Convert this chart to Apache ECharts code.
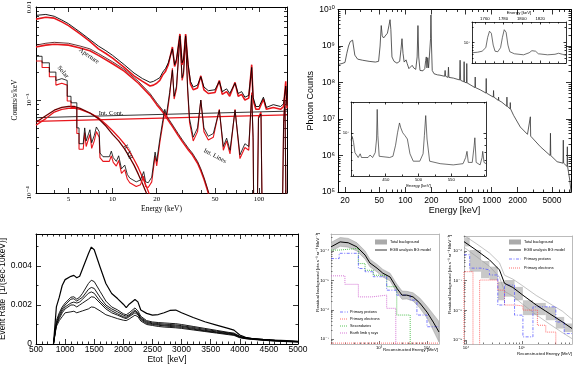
<!DOCTYPE html>
<html>
<head>
<meta charset="utf-8">
<script src="https://cdn.jsdelivr.net/npm/echarts@6/dist/echarts.min.js"></script>
<style>
html, body { margin: 0; padding: 0; background: #fff; }
#c { width: 586px; height: 375px; }
</style>
</head>
<body>
<div id="c"></div>
<script>
// ---------- panel 1 : counts/s/keV vs energy (keV); y values are log10 exponents
const totE = [3, 3.5, 4, 4.5, 5, 6, 7, 8, 9, 10, 12, 14, 16, 18, 19, 20, 21, 22, 23, 24, 25.6, 26.5, 27.3, 28.8, 29.8, 30.5, 31.5, 32.8, 34, 35.5, 38, 40, 42, 45, 50, 53.5, 56, 60, 63, 68.5, 72, 76, 80, 85, 89, 91, 95, 100, 107, 112, 125, 140, 147, 152, 155];
const totBlk = [-2.09, -2.08, -2.10, -2.14, -2.18, -2.27, -2.35, -2.42, -2.47, -2.52, -2.62, -2.71, -2.77, -2.81, -2.80, -2.78, -2.76, -2.70, -2.66, -2.60, -2.45, -2.62, -2.56, -2.31, -2.60, -2.56, -2.31, -2.62, -2.80, -2.86, -2.84, -2.75, -2.86, -2.90, -2.89, -2.80, -2.91, -2.88, -2.93, -2.82, -2.93, -2.91, -2.97, -2.95, -2.65, -2.97, -3.07, -3.07, -2.97, -3.08, -3.05, -3.07, -3.04, -2.85, -3.06];
const totRed = [-2.13, -2.11, -2.12, -2.16, -2.20, -2.29, -2.37, -2.45, -2.50, -2.55, -2.65, -2.74, -2.80, -2.85, -2.84, -2.82, -2.79, -2.73, -2.69, -2.62, -2.43, -2.64, -2.58, -2.29, -2.62, -2.58, -2.29, -2.64, -2.83, -2.89, -2.87, -2.74, -2.89, -2.93, -2.92, -2.79, -2.94, -2.91, -2.96, -2.81, -2.96, -2.94, -3.00, -2.98, -2.62, -3.00, -3.10, -3.10, -2.99, -3.10, -3.08, -3.10, -3.07, -2.80, -3.09];

const apE = [3, 3.5, 4, 5, 6, 7, 8, 10, 12, 15, 18, 20, 22, 25, 28, 30, 33, 35, 38, 40, 42, 44, 46];
const apBlk = [-2.41, -2.39, -2.38, -2.39, -2.42, -2.45, -2.50, -2.59, -2.67, -2.80, -2.93, -3.03, -3.11, -3.24, -3.36, -3.43, -3.52, -3.57, -3.66, -3.74, -3.83, -3.93, -4.03];
const apRed = [-2.43, -2.41, -2.40, -2.41, -2.44, -2.47, -2.52, -2.61, -2.69, -2.82, -2.95, -3.05, -3.13, -3.26, -3.38, -3.45, -3.54, -3.59, -3.68, -3.76, -3.85, -3.95, -4.05];

const icE = [3, 3.5, 4, 4.5, 5, 5.5, 6, 7, 8, 9, 10, 11, 12, 13, 14, 15, 16, 17, 18];
const icDark = [-3.24, -3.17, -3.11, -3.08, -3.07, -3.07, -3.09, -3.14, -3.20, -3.28, -3.37, -3.44, -3.52, -3.61, -3.70, -3.80, -3.90, -4.00, -4.10];
const icRed = [-3.27, -3.20, -3.13, -3.10, -3.09, -3.09, -3.10, -3.14, -3.19, -3.26, -3.33, -3.40, -3.47, -3.55, -3.64, -3.73, -3.83, -3.93, -4.03];

const contE = [3, 155];
const contBlk = [-3.19, -3.12];
const contRed = [-3.23, -3.16];

const lnE = [3.0, 3.3, 3.3, 3.7, 3.7, 4.1, 4.1, 4.5, 4.9, 4.9, 5.2, 5.2, 5.7, 5.7, 5.9, 5.9, 6.3, 6.45, 6.6, 6.8, 7.0, 7.2, 7.5, 7.75, 8.1, 8.2, 8.6, 9.5, 9.8, 10.1, 10.6, 11.0, 11.5, 12.1, 12.6, 13.1, 14.5, 15.5, 16.3, 16.8, 17.5, 18.5, 19.5, 20.0, 21, 22, 22.7, 23.3, 24.5, 25.6, 26.3, 27.3, 28.8, 29.8, 30.5, 31.5, 32.5, 33.5, 35.5, 38, 40, 42, 45, 48.7, 53.5, 57, 60, 63.3, 68.5, 74, 80, 85, 89, 91, 92, 97, 99, 103, 105, 144, 147, 150, 153];
const lnBlk = [-2.53, -2.53, -2.60, -2.60, -2.70, -2.70, -2.79, -2.77, -2.79, -2.96, -2.96, -3.03, -3.03, -3.30, -3.30, -3.47, -3.47, -3.30, -3.44, -3.46, -3.32, -3.46, -3.38, -3.29, -3.34, -3.57, -3.61, -3.61, -3.55, -3.62, -3.66, -3.60, -3.74, -3.70, -3.80, -3.84, -3.88, -3.86, -3.77, -3.88, -3.89, -3.83, -3.56, -3.66, -3.42, -3.22, -3.10, -3.16, -2.92, -2.68, -2.96, -2.85, -2.32, -2.76, -2.70, -2.32, -2.86, -3.20, -3.40, -3.30, -3.00, -3.30, -3.39, -3.36, -3.11, -3.50, -3.41, -3.54, -3.11, -3.59, -3.47, -3.50, -2.95, -3.40, -4.30, -4.30, -3.20, -3.15, -4.30, -4.30, -3.25, -3.00, -4.30];
const lnRed = [-2.58, -2.58, -2.65, -2.65, -2.75, -2.75, -2.84, -2.82, -2.84, -3.01, -3.01, -3.08, -3.08, -3.36, -3.36, -3.53, -3.53, -3.35, -3.50, -3.52, -3.37, -3.52, -3.44, -3.34, -3.40, -3.62, -3.66, -3.66, -3.60, -3.67, -3.71, -3.65, -3.79, -3.75, -3.85, -3.89, -3.93, -3.91, -3.82, -3.93, -3.94, -3.88, -3.60, -3.71, -3.46, -3.26, -3.13, -3.20, -2.95, -2.66, -2.99, -2.88, -2.30, -2.79, -2.73, -2.30, -2.89, -3.24, -3.44, -3.34, -3.00, -3.34, -3.43, -3.40, -3.10, -3.54, -3.44, -3.58, -3.10, -3.63, -3.51, -3.54, -2.92, -3.44, -4.30, -4.30, -3.18, -3.13, -4.30, -4.30, -3.22, -2.97, -4.30];

// ---------- panel 2 : photon counts (log10) vs energy (keV)
const specE = [17, 18.5, 20, 21, 22, 23, 24.5, 25.3, 26, 28, 32, 38, 45, 49, 51, 52.6, 54, 56, 59, 62, 64.5, 66.5, 68, 70, 74, 80, 86, 89, 91.5, 94, 97, 100, 102, 105, 110, 116, 120, 125, 132, 137, 140, 143, 148, 160, 168, 172, 175, 178, 182, 186, 192, 196, 198, 201, 205, 215, 235, 252, 285, 289, 293, 312, 316, 320, 361, 425, 431, 437, 476, 480, 484, 511, 515, 519, 640, 645, 650, 737, 860, 865, 870, 1045, 1052, 1060, 1195, 1202, 1210, 1313, 1495, 1503, 1511, 1635, 1644, 1653, 1795, 2147, 2600, 2808, 2830, 3670, 4760, 4800, 4840, 5730, 6700, 6760, 6820, 7480, 7530, 7580, 8040, 8400];
const specExp = [8.50, 8.52, 8.55, 8.80, 9.00, 9.12, 9.16, 9.15, 8.75, 8.64, 8.61, 8.58, 8.56, 8.58, 9.00, 9.56, 9.28, 9.22, 9.26, 9.35, 9.55, 9.72, 9.45, 8.70, 8.58, 8.53, 8.58, 8.90, 9.20, 8.80, 8.56, 8.55, 8.62, 8.52, 8.38, 8.42, 8.47, 8.40, 8.36, 8.70, 9.56, 8.70, 8.33, 8.32, 8.38, 8.60, 8.70, 8.40, 8.68, 8.40, 8.45, 9.20, 9.85, 9.00, 8.33, 8.24, 8.21, 8.20, 8.17, 8.33, 8.17, 8.14, 8.42, 8.14, 8.12, 8.07, 8.61, 8.06, 8.02, 8.57, 8.01, 7.99, 8.52, 7.99, 7.86, 8.15, 7.86, 7.80, 7.71, 8.11, 7.71, 7.60, 7.78, 7.60, 7.51, 7.60, 7.51, 7.46, 7.35, 7.60, 7.35, 7.28, 7.45, 7.28, 7.10, 6.78, 6.58, 7.06, 6.53, 6.24, 6.00, 6.61, 6.00, 5.83, 5.79, 6.42, 5.79, 5.70, 6.24, 5.70, 5.32, 4.90];

const hiE = [1746, 1752, 1757, 1761, 1763, 1765, 1767, 1769, 1771, 1774, 1777, 1779, 1781, 1783, 1785, 1787, 1792, 1802, 1808, 1811, 1813, 1815, 1818, 1828, 1836, 1840, 1844, 1848];
const hiExp = [6.80, 6.81, 6.83, 6.90, 7.10, 7.22, 7.18, 6.95, 6.83, 6.82, 6.90, 7.10, 7.25, 7.20, 6.95, 6.82, 6.78, 6.76, 6.80, 6.84, 6.86, 6.83, 6.78, 6.76, 6.77, 6.79, 6.77, 6.75];

const loE = [397, 399, 401, 403, 408, 411, 413, 423, 426, 430, 434, 436, 437, 438, 440, 443, 456, 461, 465, 468, 471, 473, 476, 479, 483, 487, 492, 502, 507, 509, 511, 513, 517, 533, 553, 568, 572, 574, 576, 582, 585, 586, 588, 594, 597, 598, 600, 603];
const loExp = [6.94, 6.97, 6.92, 6.84, 6.80, 6.83, 6.80, 6.80, 6.82, 6.80, 6.84, 6.95, 7.19, 6.98, 6.81, 6.80, 6.80, 6.81, 6.90, 7.00, 7.08, 7.04, 7.00, 6.98, 6.95, 6.83, 6.77, 6.77, 6.83, 6.98, 7.14, 6.95, 6.77, 6.75, 6.74, 6.75, 6.80, 6.85, 6.76, 6.76, 6.90, 6.96, 6.76, 6.74, 6.80, 6.85, 6.76, 6.75];

// ---------- panel 3 : event rate vs Etot (keV)
const etot = [800, 850, 900, 950, 1000, 1100, 1150, 1200, 1250, 1300, 1400, 1450, 1500, 1600, 1700, 1800, 1900, 2000, 2050, 2100, 2200, 2250, 2300, 2400, 2500, 2600, 2700, 2800, 2900, 3000, 3200, 3400, 3600, 3800, 3900, 4000, 4100, 4200, 4400, 4600, 4800, 5000];
const rate1 = [0, 0.0019, 0.0024, 0.0030, 0.0033, 0.00347, 0.00352, 0.0034, 0.00347, 0.00386, 0.00463, 0.00497, 0.00483, 0.00395, 0.0031, 0.00259, 0.00233, 0.00204, 0.00187, 0.00204, 0.00228, 0.00216, 0.00174, 0.00157, 0.00148, 0.00151, 0.0016, 0.00172, 0.00174, 0.0016, 0.00136, 0.00114, 0.00097, 0.0008, 0.00071, 0.00046, 0.00034, 0.00029, 0.00024, 0.0002, 0.00017, 0.00014];
const rate2 = [0, 0.0012, 0.0016, 0.0019, 0.0021, 0.0024, 0.00242, 0.0023, 0.0024, 0.0026, 0.0031, 0.00327, 0.0032, 0.0027, 0.0022, 0.0019, 0.00175, 0.00155, 0.0015, 0.0016, 0.00185, 0.0017, 0.00142, 0.0012, 0.00113, 0.0011, 0.00108, 0.00106, 0.00104, 0.001, 0.0009, 0.0008, 0.0007, 0.0006, 0.00056, 0.0004, 0.00032, 0.00028, 0.00023, 0.00019, 0.00016, 0.00013];
const rate3 = [0, 0.0011, 0.0015, 0.0018, 0.002, 0.0023, 0.00232, 0.0022, 0.0023, 0.0024, 0.0028, 0.0029, 0.00285, 0.0024, 0.002, 0.0018, 0.00165, 0.00148, 0.00143, 0.0015, 0.00175, 0.0016, 0.00135, 0.00115, 0.00108, 0.00105, 0.00102, 0.001, 0.00098, 0.00094, 0.00085, 0.00075, 0.00066, 0.00057, 0.00052, 0.00038, 0.0003, 0.00027, 0.00022, 0.00018, 0.00015, 0.00012];
const rate4 = [0, 0.001, 0.0014, 0.0017, 0.0019, 0.0021, 0.00215, 0.0021, 0.00215, 0.0023, 0.0026, 0.00267, 0.0026, 0.0022, 0.0019, 0.0017, 0.00155, 0.0014, 0.00136, 0.00145, 0.00168, 0.00155, 0.0013, 0.0011, 0.00104, 0.001, 0.00097, 0.00095, 0.00093, 0.0009, 0.0008, 0.0007, 0.00062, 0.00054, 0.0005, 0.00036, 0.00029, 0.00026, 0.00021, 0.00017, 0.00014, 0.00012];
const rate5 = [0, 0.001, 0.0013, 0.0016, 0.0018, 0.002, 0.002, 0.0019, 0.002, 0.0021, 0.0023, 0.00242, 0.0024, 0.0021, 0.0018, 0.0016, 0.00148, 0.00135, 0.0013, 0.0014, 0.0016, 0.0015, 0.00125, 0.00105, 0.001, 0.00096, 0.00093, 0.0009, 0.00088, 0.00085, 0.00076, 0.00067, 0.00059, 0.00051, 0.00047, 0.00034, 0.00028, 0.00025, 0.0002, 0.00016, 0.00013, 0.00011];
const rate6 = [0, 0.0009, 0.0012, 0.0014, 0.0016, 0.00165, 0.00168, 0.0016, 0.00165, 0.0017, 0.0018, 0.0019, 0.00188, 0.0017, 0.0015, 0.0014, 0.0013, 0.00122, 0.0012, 0.00128, 0.00148, 0.0014, 0.00118, 0.001, 0.00095, 0.0009, 0.00087, 0.00085, 0.00083, 0.0008, 0.00072, 0.00064, 0.00056, 0.00048, 0.00044, 0.00032, 0.00027, 0.00024, 0.00019, 0.00015, 0.00012, 0.0001];

// ---------- panel 4 : residual background (log10) vs reconstructed energy (MeV)
const p4E = [100, 155, 229, 347, 513, 646, 912, 1202, 1698, 2344, 3020, 3802, 5129, 7079, 10000, 13490, 17780];
const p4Model = [-3.85, -3.68, -3.71, -3.85, -4.13, -4.40, -4.58, -4.75, -4.88, -5.26, -5.50, -5.50, -5.56, -5.77, -6.08, -6.42, -6.76];
const p4Upper = [-3.70, -3.53, -3.56, -3.71, -3.99, -4.27, -4.45, -4.62, -4.75, -5.12, -5.36, -5.37, -5.42, -5.60, -5.88, -6.15, -6.40];
const p4Lower = [-4.00, -3.83, -3.86, -3.99, -4.27, -4.53, -4.71, -4.88, -5.01, -5.40, -5.64, -5.63, -5.70, -5.94, -6.28, -6.70, -7.10];
const p4Edges = [100, 148, 372, 513, 759, 1445, 2344, 4467, 6166, 10000, 17780];
const p4Protons = [-4.25, -4.07, -4.59, -4.70, -4.87, -5.33, -5.50, -5.67, -6.18, -6.58];
const p4Second = [-3.96, -3.90, -4.42, -4.65, -4.82, -5.21, -6.18];
const p4LimbEdges = [100, 195, 372, 513, 708, 1445, 2239];
const p4Limb = [-4.84, -5.13, -5.56, -5.56, -5.50, -5.95];
const p4ElecEdges = [100, 17780];
const p4Elec = [-7.14];

// ---------- panel 5
const p5E = [9204, 15136, 26303, 39811, 48978, 69183, 104713, 181970, 309030, 537032, 794328];
const p5Model = [-5.69, -5.97, -6.30, -6.64, -7.09, -7.23, -7.49, -7.82, -8.10, -8.39, -8.61];
const p5Upper = [-5.48, -5.75, -6.07, -6.40, -6.82, -6.95, -7.18, -7.50, -7.76, -8.03, -8.30];
const p5Lower = [-5.88, -6.18, -6.52, -6.88, -7.36, -7.52, -7.80, -8.15, -8.45, -8.75, -8.95];
const p5BoxEdges = [9204, 11641, 18621, 26303, 37154, 48978, 74131, 104713, 158489, 269153, 407380, 575440, 794328];
const p5BoxTop = [-5.55, -5.97, -6.34, -6.53, -7.04, -6.98, -7.21, -7.66, -7.75, -7.88, -8.22, -8.44];
const p5BoxBot = [-5.85, -6.70, -6.92, -6.98, -7.66, -7.54, -7.66, -8.16, -8.16, -8.33, -8.61, -8.73];
const p5Protons = [-6.13, -6.58, -6.64, -6.81, -7.82, -7.15, -8.16, -8.89, -7.88, -7.88, -8.39, -8.78];
const p5ElecEdges = [9204, 13335, 17539, 37154, 48978, 74131, 104713, 190546, 269153, 407380];
const p5Elec = [-6.70, -9.50, -6.98, -7.32, -7.82, -7.85, -7.99, -8.50, -8.73];

// ---------- helpers
const lg = Math.log10;
const SERIF = '"Liberation Serif", "DejaVu Serif", serif';
const SANS = '"Liberation Sans", "DejaVu Sans", sans-serif';
const SUP = { '-': '\u207B', '0': '\u2070', '1': '\u00B9', '2': '\u00B2', '3': '\u00B3', '4': '\u2074', '5': '\u2075', '6': '\u2076', '7': '\u2077', '8': '\u2078', '9': '\u2079' };
const pow10 = v => '10' + String(Math.round(v)).split('').map(c => SUP[c]).join('');
const plain = v => String(Math.round(Math.pow(10, v)));

function majorLog(a, b) { const o = []; for (let d = Math.ceil(a - 1e-9); d <= b + 1e-9; d++) o.push(d); return o; }
function minorLog(a, b) {
  const o = [];
  for (let d = Math.floor(a) - 1; d <= Math.ceil(b); d++)
    for (let k = 2; k <= 9; k++) { const v = d + lg(k); if (v > a && v < b) o.push(v); }
  return o;
}
const xyL = (xs, ys) => xs.map((x, i) => [lg(x), ys[i]]);
const xyN = (xs, ys) => xs.map((x, i) => [x, ys[i]]);
function hist(edges, vals, drop) {
  const p = vals.map((v, i) => [lg(edges[i]), v]);
  p.push([lg(edges[vals.length]), vals[vals.length - 1]]);
  if (drop !== undefined) p.push([lg(edges[vals.length]), drop]);
  return p;
}

const xAxis = [], yAxis = [];
function axis(list, g, r, pos, o) {
  const c = o.color || '#000';
  list.push({
    type: 'value', gridIndex: g, min: r[0], max: r[1], position: pos,
    axisLine: { show: o.line !== false, onZero: false, lineStyle: { color: c, width: o.lw || 1 } },
    axisTick: o.ticks ? { show: true, inside: true, length: o.len || 4, customValues: o.ticks, lineStyle: { color: o.tc || c, width: 0.8 } } : { show: false },
    axisLabel: o.labels ? { show: true, customValues: o.labels, formatter: o.fmt, fontFamily: o.font, fontSize: o.size, color: '#000', margin: o.margin || 3, rotate: o.rotate || 0, hideOverlap: false } : { show: false },
    splitLine: { show: false }, minorTick: { show: false },
    name: o.name || '', nameLocation: 'middle', nameGap: o.gap || 0, nameRotate: o.nameRotate,
    nameTextStyle: { fontFamily: o.font, fontSize: o.nameSize || o.size, color: '#000' }
  });
  return list.length - 1;
}
function frame(g, xr, yr, s) {
  const base = { color: s.color, tc: s.tc, font: s.font, size: s.size, lw: s.lw };
  const xb = s.xTop ? 'top' : 'bottom', xt = s.xTop ? 'bottom' : 'top';
  const xi = axis(xAxis, g, xr, xb, Object.assign({}, base, s.x, { ticks: s.x.major, len: s.len }));
  if (s.x.minor) axis(xAxis, g, xr, xb, Object.assign({}, base, { line: false, ticks: s.x.minor, len: s.mlen }));
  axis(xAxis, g, xr, xt, Object.assign({}, base, s.mirror ? { ticks: s.x.major, len: s.len } : {}));
  if (s.mirror && s.x.minor) axis(xAxis, g, xr, xt, Object.assign({}, base, { line: false, ticks: s.x.minor, len: s.mlen }));
  const yi = axis(yAxis, g, yr, 'left', Object.assign({}, base, s.y, { ticks: s.y.major, len: s.len }));
  if (s.y.minor) axis(yAxis, g, yr, 'left', Object.assign({}, base, { line: false, ticks: s.y.minor, len: s.mlen }));
  axis(yAxis, g, yr, 'right', Object.assign({}, base, s.mirror ? { ticks: s.y.major, len: s.len } : {}));
  if (s.mirror && s.y.minor) axis(yAxis, g, yr, 'right', Object.assign({}, base, { line: false, ticks: s.y.minor, len: s.mlen }));
  return { x: xi, y: yi };
}

const grid = [
  { left: 36, top: 7, width: 251, height: 186 },
  { left: 338, top: 9.5, width: 233, height: 182.5 },
  { left: 472, top: 22, width: 94, height: 41 },
  { left: 351, top: 102, width: 135, height: 74 },
  { left: 36, top: 234, width: 262, height: 110 },
  { left: 331, top: 234, width: 108, height: 110 },
  { left: 464, top: 236, width: 108, height: 108 }
].map(g => Object.assign({ containLabel: false, outerBoundsMode: 'none' }, g));

// panel 1 axes
const r1x = [lg(3), lg(155)], r1y = [-4, -2];
const A1 = frame(0, r1x, r1y, {
  font: SERIF, size: 7, len: 5, mlen: 3, mirror: true,
  x: { major: [lg(5), 1, lg(20), lg(50), 2], minor: [3, 4, 6, 7, 8, 9, 30, 40, 60, 70, 80, 90, 150].map(lg),
       labels: [lg(5), 1, lg(20), lg(50), 2], fmt: plain, margin: 3, name: 'Energy (keV)', gap: 12, nameSize: 7.5 },
  y: { major: majorLog(-4, -2), minor: minorLog(-4, -2), labels: [-4, -3, -2],
       fmt: v => Math.round(v) === -2 ? '0.01' : pow10(v), rotate: 90, margin: 3,
       name: 'Counts/s/keV', gap: 17, nameRotate: 90, nameSize: 7.5 }
});
// panel 2 axes
const r2x = [lg(16.6), lg(8300)], r2y = [5, 10];
const lab2 = [20, 50, 100, 200, 500, 1000, 2000, 5000].map(lg);
const A2 = frame(1, r2x, r2y, {
  font: SANS, size: 8.5, len: 5, mlen: 2.5, mirror: true,
  x: { major: lab2, minor: [30, 40, 60, 70, 80, 90, 300, 400, 600, 700, 800, 900, 3000, 4000, 6000, 7000, 8000].map(lg),
       labels: lab2, fmt: plain, margin: 4, name: 'Energy [keV]', gap: 13, nameSize: 9 },
  y: { major: majorLog(5, 10), minor: minorLog(5, 10), labels: majorLog(5, 10), fmt: pow10, margin: 3,
       name: 'Photon Counts', gap: 22, nameRotate: 90, nameSize: 9 }
});
const A2a = frame(2, [1746, 1848], [6.6, 7.4], {
  font: SANS, size: 4.3, len: 2.5, mlen: 1.5, lw: 0.8, mirror: true, xTop: true,
  x: { major: [1760, 1780, 1800, 1820], minor: [1750, 1770, 1790, 1810, 1830, 1840], labels: [1760, 1780, 1800, 1820],
       fmt: v => String(v), margin: 1.5, name: 'Energy [keV]', gap: 7 },
  y: { major: [7], minor: minorLog(6.6, 7.4), labels: [7], fmt: pow10, margin: 2 }
});
const A2b = frame(3, [397, 603], [6.65, 7.25], {
  font: SANS, size: 4.3, len: 2.5, mlen: 1.5, lw: 0.8, mirror: true,
  x: { major: [450, 500, 550], minor: [400, 425, 475, 525, 575, 600], labels: [450, 500, 550],
       fmt: v => String(v), margin: 2, name: 'Energy [keV]', gap: 8 },
  y: { major: [7], minor: minorLog(6.65, 7.25), labels: [7], fmt: pow10, margin: 2 }
});
// panel 3 axes
const x3maj = [], x3min = [];
for (let e = 500; e <= 5000; e += 100) (e % 500 === 0 ? x3maj : x3min).push(e);
const A3 = frame(4, [500, 5000], [0, 0.00564], {
  font: SANS, size: 8.5, len: 5, mlen: 2.5, mirror: true,
  x: { major: x3maj, minor: x3min, labels: x3maj, fmt: v => String(v), margin: 1.5, name: 'Etot  [keV]', gap: 11, nameSize: 8.5 },
  y: { major: [0, 0.002, 0.004], minor: [0.001, 0.003, 0.005], labels: [0, 0.002, 0.004],
       fmt: v => v === 0 ? '0' : v.toFixed(3), margin: 4,
       name: 'Event Rate  [1/(sec\u00B710keV)]', gap: 25, nameRotate: 90, nameSize: 8.3 }
});
// panel 4 / 5 axes
const A4 = frame(5, [2, 4.25], [-7.17, -3.41], {
  font: SANS, size: 4.3, len: 3, mlen: 1.5, color: '#aaa', tc: '#555', lw: 0.8,
  x: { major: [3, 4], minor: minorLog(2, 4.25), labels: [3, 4], fmt: pow10, margin: 1.5 },
  y: { major: [-7, -6, -5, -4], minor: minorLog(-7.17, -3.41), labels: [-7, -6, -5, -4], fmt: pow10, margin: 2 }
});
const A5 = frame(6, [3.964, 5.9], [-9.13, -5.5], {
  font: SANS, size: 4.3, len: 3, mlen: 1.5, color: '#aaa', tc: '#555', lw: 0.8,
  x: { major: [4, 5], minor: minorLog(3.964, 5.9), labels: [4, 5], fmt: pow10, margin: 1.5 },
  y: { major: [-9, -8, -7, -6], minor: minorLog(-9.13, -5.5), labels: [-9, -8, -7, -6], fmt: pow10, margin: 2 }
});

// ---------- series
function line(A, pts, color, width, extra) {
  return Object.assign({
    type: 'line', xAxisIndex: A.x, yAxisIndex: A.y, data: pts, showSymbol: false, symbol: 'none',
    silent: true, clip: true, animation: false, z: 3,
    lineStyle: { color: color, width: width, type: (extra && extra.dash) || 'solid' }
  }, extra && extra.step ? { step: extra.step } : {});
}
function band(A, xs, up, lo, fill, stroke) {
  return {
    type: 'custom', xAxisIndex: A.x, yAxisIndex: A.y, data: [[0, 0]], clip: true, silent: true, z: 1,
    renderItem: (p, api) => {
      const pts = xs.map((x, i) => api.coord([lg(x), up[i]]))
        .concat(xs.map((x, i) => api.coord([lg(x), lo[i]])).reverse());
      return { type: 'polygon', shape: { points: pts }, style: { fill: fill, stroke: stroke, lineWidth: 0.5 } };
    }
  };
}
const boxData = p5BoxTop.map((t, i) => [lg(p5BoxEdges[i]), lg(p5BoxEdges[i + 1]), t, p5BoxBot[i]]);

const BLUE = '#5a5aff', RED = '#ff4b4b', GREEN = '#2fb52f', MAG = '#cc55cc', PRED = '#e8161c';
const series = [
  // panel 1
  line(A1, xyL(contE, contRed), PRED, 1.2),
  line(A1, xyL(contE, contBlk), '#000', 0.8),
  line(A1, xyL(icE, icRed), PRED, 1.3),
  line(A1, xyL(icE, icDark), '#6b0000', 1.3),
  line(A1, xyL(apE, apRed), PRED, 1.6),
  line(A1, xyL(apE, apBlk), '#3a0000', 0.8),
  line(A1, xyL(lnE, lnRed), PRED, 1.1),
  line(A1, xyL(lnE, lnBlk), '#000', 0.8),
  line(A1, xyL(totE, totRed), PRED, 1.6),
  line(A1, xyL(totE, totBlk), '#000', 0.9),
  // panel 2
  line(A2, xyL(specE, specExp), '#333', 0.8),
  line(A2a, xyN(hiE, hiExp), '#333', 0.7),
  line(A2b, xyN(loE, loExp), '#333', 0.7),
  // panel 3
  line(A3, xyN(etot, rate6), '#000', 0.9),
  line(A3, xyN(etot, rate5), '#000', 0.9),
  line(A3, xyN(etot, rate4), '#000', 0.9),
  line(A3, xyN(etot, rate3), '#000', 0.9),
  line(A3, xyN(etot, rate2), '#000', 0.9),
  line(A3, xyN(etot, rate1), '#000', 1.2),
  // panel 4
  band(A4, p4E, p4Upper, p4Lower, '#c6c6c6', '#9a9a9a'),
  line(A4, hist(p4LimbEdges, p4Limb, -7.5), MAG, 0.8, { step: 'end', dash: [1, 1] }),
  line(A4, hist(p4Edges.slice(0, 8), p4Second, -7.5), GREEN, 0.8, { step: 'end', dash: [1, 1] }),
  line(A4, hist(p4Edges, p4Protons), BLUE, 0.8, { step: 'end', dash: [3, 1.5, 1, 1.5] }),
  line(A4, hist(p4ElecEdges, p4Elec), RED, 0.8, { step: 'end', dash: [1, 1] }),
  line(A4, xyL(p4E, p4Model), '#000', 1),
  // panel 5
  {
    type: 'custom', xAxisIndex: A5.x, yAxisIndex: A5.y, data: boxData, clip: true, silent: true, z: 1,
    encode: { x: [0, 1], y: [2, 3] },
    renderItem: (p, api) => {
      const a = api.coord([api.value(0), api.value(2)]), b = api.coord([api.value(1), api.value(3)]);
      return { type: 'rect', shape: { x: a[0], y: a[1], width: b[0] - a[0], height: b[1] - a[1] }, style: { fill: '#c8c8c8' } };
    }
  },
  line(A5, xyL(p5E, p5Upper), '#9a9a9a', 0.6),
  line(A5, xyL(p5E, p5Lower), '#9a9a9a', 0.6),
  line(A5, [[lg(p5ElecEdges[0]), -9.5]].concat(hist(p5ElecEdges, p5Elec, -9.5)), RED, 0.8, { step: 'end', dash: [1, 1] }),
  line(A5, hist(p5BoxEdges, p5Protons), BLUE, 0.8, { step: 'end', dash: [3, 1.5, 1, 1.5] }),
  line(A5, xyL(p5E, p5Model), '#000', 1)
];

// ---------- annotations and legends
function T(x, y, text, size, font, rot, extra) {
  return { type: 'text', x: x, y: y, rotation: rot || 0, silent: true, z: 10,
    style: Object.assign({ text: text, fontSize: size, fontFamily: font, fill: '#000', align: 'center', verticalAlign: 'middle' }, extra || {}) };
}
function L(x1, y1, x2, y2, stroke, w, dash) {
  return { type: 'line', silent: true, z: 10, shape: { x1: x1, y1: y1, x2: x2, y2: y2 },
    style: { stroke: stroke, lineWidth: w, lineDash: dash || null } };
}
function R(x, y, w, h, fill) {
  return { type: 'rect', silent: true, z: 10, shape: { x: x, y: y, width: w, height: h }, style: { fill: fill } };
}
const deg = Math.PI / 180;
const graphic = [
  T(89, 56, 'Aperture', 6.5, SERIF, -35 * deg),
  T(63, 72, 'Solar', 6.5, SERIF, -50 * deg),
  T(111, 113, 'Int. Cont.', 6.5, SERIF, 0),
  T(128, 152, 'ICXB', 6.5, SERIF, -68 * deg),
  T(215, 156, 'Int. Lines', 6.5, SERIF, -28 * deg),
  // panel 4
  T(318, 233, 'Residual background [cts s\u207B\u00B9 sr\u207B\u00B9 MeV\u207B\u00B9]', 4.3, SANS, Math.PI / 2, { align: 'right' }),
  T(438, 349.5, 'Reconstructed Energy [MeV]', 4.3, SANS, 0, { align: 'right' }),
  R(375, 239.5, 12, 5, '#aaa'),
  T(390, 242, 'Total background', 3.8, SANS, 0, { align: 'left' }),
  L(375, 250, 387, 250, '#000', 0.8),
  T(390, 250, 'EGB analysis BG model', 3.8, SANS, 0, { align: 'left' }),
  L(340, 312, 348, 312, BLUE, 0.8, [3, 1.5, 1, 1.5]),
  T(350, 312, 'Primary protons', 3.8, SANS, 0, { align: 'left' }),
  L(340, 319, 348, 319, RED, 0.8, [1, 1]),
  T(350, 319, 'Primary electrons', 3.8, SANS, 0, { align: 'left' }),
  L(340, 326, 348, 326, GREEN, 0.8, [1, 1]),
  T(350, 326, 'Secondaries', 3.8, SANS, 0, { align: 'left' }),
  L(340, 333, 348, 333, MAG, 0.8, [1, 1]),
  T(350, 333, 'Earth limb \u03B3 rays', 3.8, SANS, 0, { align: 'left' }),
  // panel 5
  T(450, 235, 'Residual background [cts s\u207B\u00B9 sr\u207B\u00B9 MeV\u207B\u00B9]', 4.3, SANS, Math.PI / 2, { align: 'right' }),
  T(572, 354, 'Reconstructed Energy [MeV]', 4.3, SANS, 0, { align: 'right' }),
  R(509, 239.5, 12, 5, '#aaa'),
  T(524, 242, 'Total background', 3.8, SANS, 0, { align: 'left' }),
  L(509, 250, 521, 250, '#000', 0.8),
  T(524, 250, 'EGB analysis BG model', 3.8, SANS, 0, { align: 'left' }),
  L(509, 259, 521, 259, BLUE, 0.8, [3, 1.5, 1, 1.5]),
  T(524, 259, 'Primary protons', 3.8, SANS, 0, { align: 'left' }),
  L(509, 268, 521, 268, RED, 0.8, [1, 1]),
  T(524, 268, 'Primary electrons', 3.8, SANS, 0, { align: 'left' })
];

const chart = echarts.init(document.getElementById('c'), null, { renderer: 'canvas' });
chart.setOption({
  animation: false,
  backgroundColor: '#fff',
  grid: grid,
  xAxis: xAxis,
  yAxis: yAxis,
  series: series,
  graphic: graphic
});
</script>
</body>
</html>
